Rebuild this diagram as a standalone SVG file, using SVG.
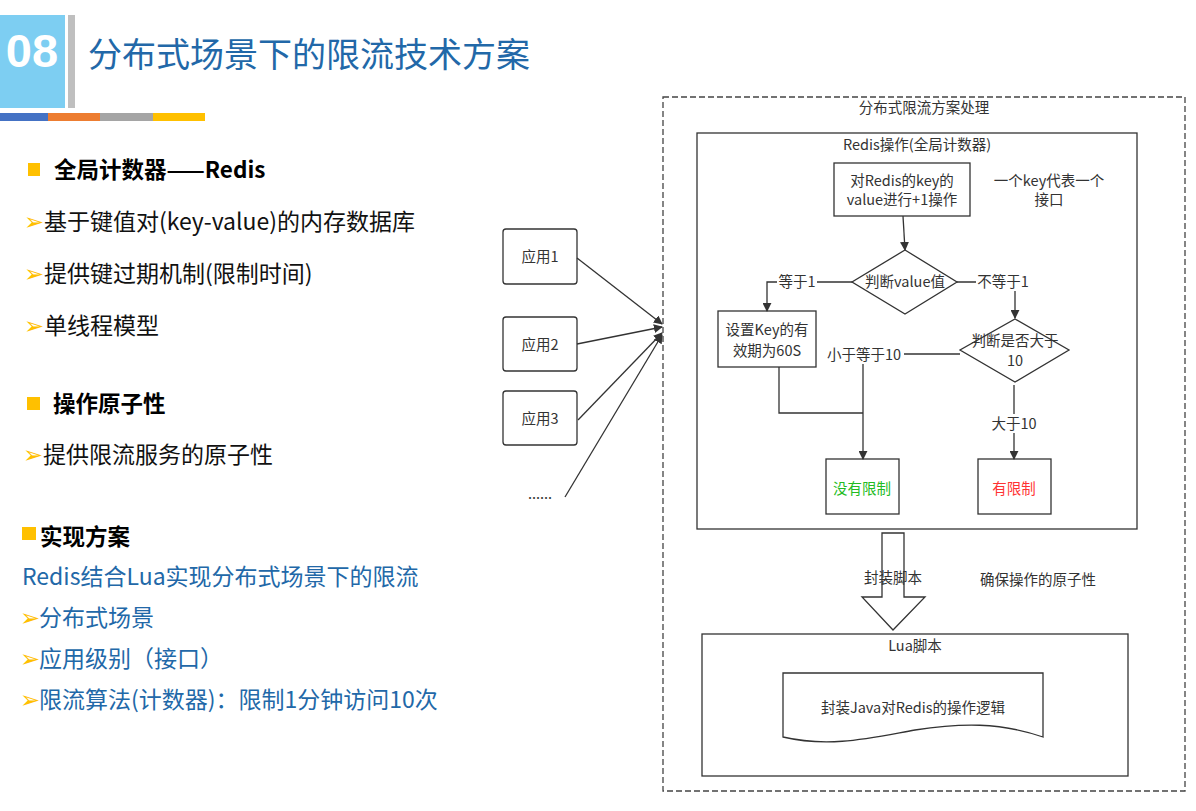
<svg xmlns="http://www.w3.org/2000/svg" width="1196" height="811" viewBox="0 0 1196 811">
<defs>
<style>
.cjk{font-family:"Noto Sans CJK SC","Liberation Sans",sans-serif}
.d{font-family:"Noto Sans CJK SC","Liberation Sans",sans-serif;font-size:14.5px;fill:#333}
.box{fill:#fff;stroke:#333;stroke-width:1.3}
.ln{fill:none;stroke:#333;stroke-width:1.3}
.lt{font-family:"Noto Sans CJK SC","Liberation Sans",sans-serif;font-size:23px;fill:#111}
.bl{font-family:"Noto Sans CJK SC","Liberation Sans",sans-serif;font-size:23px;fill:#2268A8}
.bu{font-family:"DejaVu Sans",sans-serif;font-size:24px;fill:#FFC000}
.hd{font-family:"Noto Sans CJK SC","Liberation Sans",sans-serif;font-size:22.5px;font-weight:bold;fill:#000}
</style>
<marker id="ah" viewBox="0 0 10 10" refX="9" refY="5" markerWidth="9" markerHeight="9" markerUnits="userSpaceOnUse" orient="auto">
<path d="M0,0 L10,5 L0,10 Z" fill="#333"/>
</marker>
</defs>
<rect width="1196" height="811" fill="#fff"/>

<g id="header">
<rect x="0" y="15" width="65" height="93" fill="#7DCEF2"/>
<rect x="68" y="15" width="7" height="93" fill="#BFBFBF"/>
<text x="32" y="67" text-anchor="middle" font-family="Liberation Sans, sans-serif" font-weight="bold" font-size="47" fill="#fff">08</text>
<text x="88" y="67" class="cjk" font-size="34" fill="#2268A8">分布式场景下的限流技术方案</text>
<rect x="0" y="113" width="48" height="8" fill="#4472C4"/>
<rect x="48" y="113" width="52" height="8" fill="#ED7D31"/>
<rect x="100" y="113" width="53" height="8" fill="#A5A5A5"/>
<rect x="153" y="113" width="52" height="8" fill="#FFC000"/>
</g>

<g id="left-text">
<rect x="28" y="163" width="12" height="13" fill="#FFC000"/>
<text x="54" y="178" class="hd" font-size="23">全局计数器——Redis</text>
<text x="24" y="230" class="bu">➢</text><text x="44" y="230" class="lt">基于键值对(key-value)的内存数据库</text>
<text x="24" y="282" class="bu">➢</text><text x="44" y="282" class="lt">提供键过期机制(限制时间)</text>
<text x="24" y="334" class="bu">➢</text><text x="44" y="334" class="lt">单线程模型</text>
<rect x="27" y="397" width="13" height="13" fill="#FFC000"/>
<text x="53" y="412" class="hd">操作原子性</text>
<text x="23" y="463" class="bu">➢</text><text x="43" y="463" class="lt">提供限流服务的原子性</text>
<rect x="22" y="527" width="14" height="13" fill="#FFC000"/>
<text x="40" y="545" class="hd" font-size="24">实现方案</text>
<text x="22" y="585" class="bl">Redis结合Lua实现分布式场景下的限流</text>
<text x="20" y="626" class="bu">➢</text><text x="39" y="626" class="bl">分布式场景</text>
<text x="20" y="667" class="bu">➢</text><text x="39" y="667" class="bl">应用级别（接口）</text>
<text x="20" y="708" class="bu">➢</text><text x="39" y="708" class="bl">限流算法(计数器)：限制1分钟访问10次</text>
</g>

<g id="app1"><rect x="503" y="229" width="74" height="55" rx="3" class="box"/><text x="540" y="262" text-anchor="middle" class="d">应用1</text></g>
<g id="app2"><rect x="503" y="317" width="74" height="54" rx="3" class="box"/><text x="540" y="350" text-anchor="middle" class="d">应用2</text></g>
<g id="app3"><rect x="503" y="391" width="74" height="54" rx="3" class="box"/><text x="540" y="424" text-anchor="middle" class="d">应用3</text></g>
<g id="app-more"><text x="540" y="499" text-anchor="middle" class="d" font-size="10">......</text></g>

<g id="outer">
<rect x="663" y="97" width="522" height="694" fill="none" stroke="#444" stroke-width="1.3" stroke-dasharray="6,3"/>
<text x="924" y="113" text-anchor="middle" class="d">分布式限流方案处理</text>
</g>

<g id="redis-box">
<rect x="697" y="133" width="440" height="396" class="box"/>
<text x="917" y="150" text-anchor="middle" class="d">Redis操作(全局计数器)</text>
</g>

<g id="incr">
<rect x="834" y="163" width="136" height="53" class="box"/>
<text x="902" y="186" text-anchor="middle" class="d" font-size="13">对Redis的key的</text>
<text x="902" y="205" text-anchor="middle" class="d" font-size="13">value进行+1操作</text>
</g>
<g id="note1">
<text x="1049" y="186" text-anchor="middle" class="d" font-size="14">一个key代表一个</text>
<text x="1049" y="205" text-anchor="middle" class="d" font-size="14">接口</text>
</g>

<g id="diamond1">
<polygon points="905,250 957,282 905,314 852,282" class="box"/>
<text x="905" y="287" text-anchor="middle" class="d">判断value值</text>
</g>

<g id="setkey">
<rect x="718" y="311" width="98" height="56" class="box"/>
<text x="767" y="335" text-anchor="middle" class="d" font-size="14">设置Key的有</text>
<text x="767" y="356" text-anchor="middle" class="d" font-size="14">效期为60S</text>
</g>

<g id="diamond2">
<polygon points="1015,319 1069,350 1015,382 960,350" class="box"/>
<text x="1015" y="346" text-anchor="middle" class="d" font-size="13.5">判断是否大于</text>
<text x="1015" y="366" text-anchor="middle" class="d" font-size="13.5">10</text>
</g>

<g id="nolimit">
<rect x="826" y="459" width="73" height="55" class="box"/>
<text x="862" y="494" text-anchor="middle" class="d" font-size="15" style="fill:#22BB22">没有限制</text>
</g>
<g id="limit">
<rect x="978" y="459" width="73" height="55" class="box"/>
<text x="1014" y="494" text-anchor="middle" class="d" font-size="15" style="fill:#FF3333">有限制</text>
</g>

<g id="lua-box">
<rect x="702" y="634" width="426" height="142" class="box"/>
<text x="915" y="651" text-anchor="middle" class="d">Lua脚本</text>
</g>
<g id="lua-doc">
<path d="M783,673 L1043,673 L1043,737 C1000,722 960,723 915,730 C870,738 830,748 783,737 Z" class="box"/>
<text x="913" y="713" text-anchor="middle" class="d">封装Java对Redis的操作逻辑</text>
</g>

<g id="connectors">
<line x1="577" y1="258" x2="662" y2="324" class="ln" marker-end="url(#ah)"/>
<line x1="577" y1="344" x2="662" y2="327" class="ln" marker-end="url(#ah)"/>
<line x1="578" y1="420" x2="662" y2="333" class="ln" marker-end="url(#ah)"/>
<line x1="565" y1="497" x2="662" y2="335" class="ln" marker-end="url(#ah)"/>
<line x1="903" y1="216" x2="905" y2="250" class="ln" marker-end="url(#ah)"/>
<polyline points="852,282 767,282 767,311" class="ln" marker-end="url(#ah)"/>
<polyline points="957,282 1015,282 1015,318" class="ln" marker-end="url(#ah)"/>
<line x1="960" y1="354" x2="863" y2="354" class="ln"/>
<line x1="863" y1="354" x2="863" y2="459" class="ln" marker-end="url(#ah)"/>
<polyline points="779,367 779,413 863,413" class="ln"/>
<line x1="1014" y1="385" x2="1014" y2="459" class="ln" marker-end="url(#ah)"/>
<polygon points="882,533 904,533 904,597 925,597 893,630 862,597 882,597" class="box"/>
<rect x="777" y="273" width="40" height="18" fill="#fff"/>
<text x="797" y="287" text-anchor="middle" class="d">等于1</text>
<rect x="976" y="273" width="55" height="18" fill="#fff"/>
<text x="1003" y="287" text-anchor="middle" class="d">不等于1</text>
<rect x="824" y="345" width="80" height="19" fill="#fff"/>
<text x="864" y="360" text-anchor="middle" class="d">小于等于10</text>
<rect x="987" y="414" width="54" height="19" fill="#fff"/>
<text x="1014" y="429" text-anchor="middle" class="d">大于10</text>
<text x="893" y="583" text-anchor="middle" class="d">封装脚本</text>
<text x="1038" y="585" text-anchor="middle" class="d">确保操作的原子性</text>
</g>
</svg>
